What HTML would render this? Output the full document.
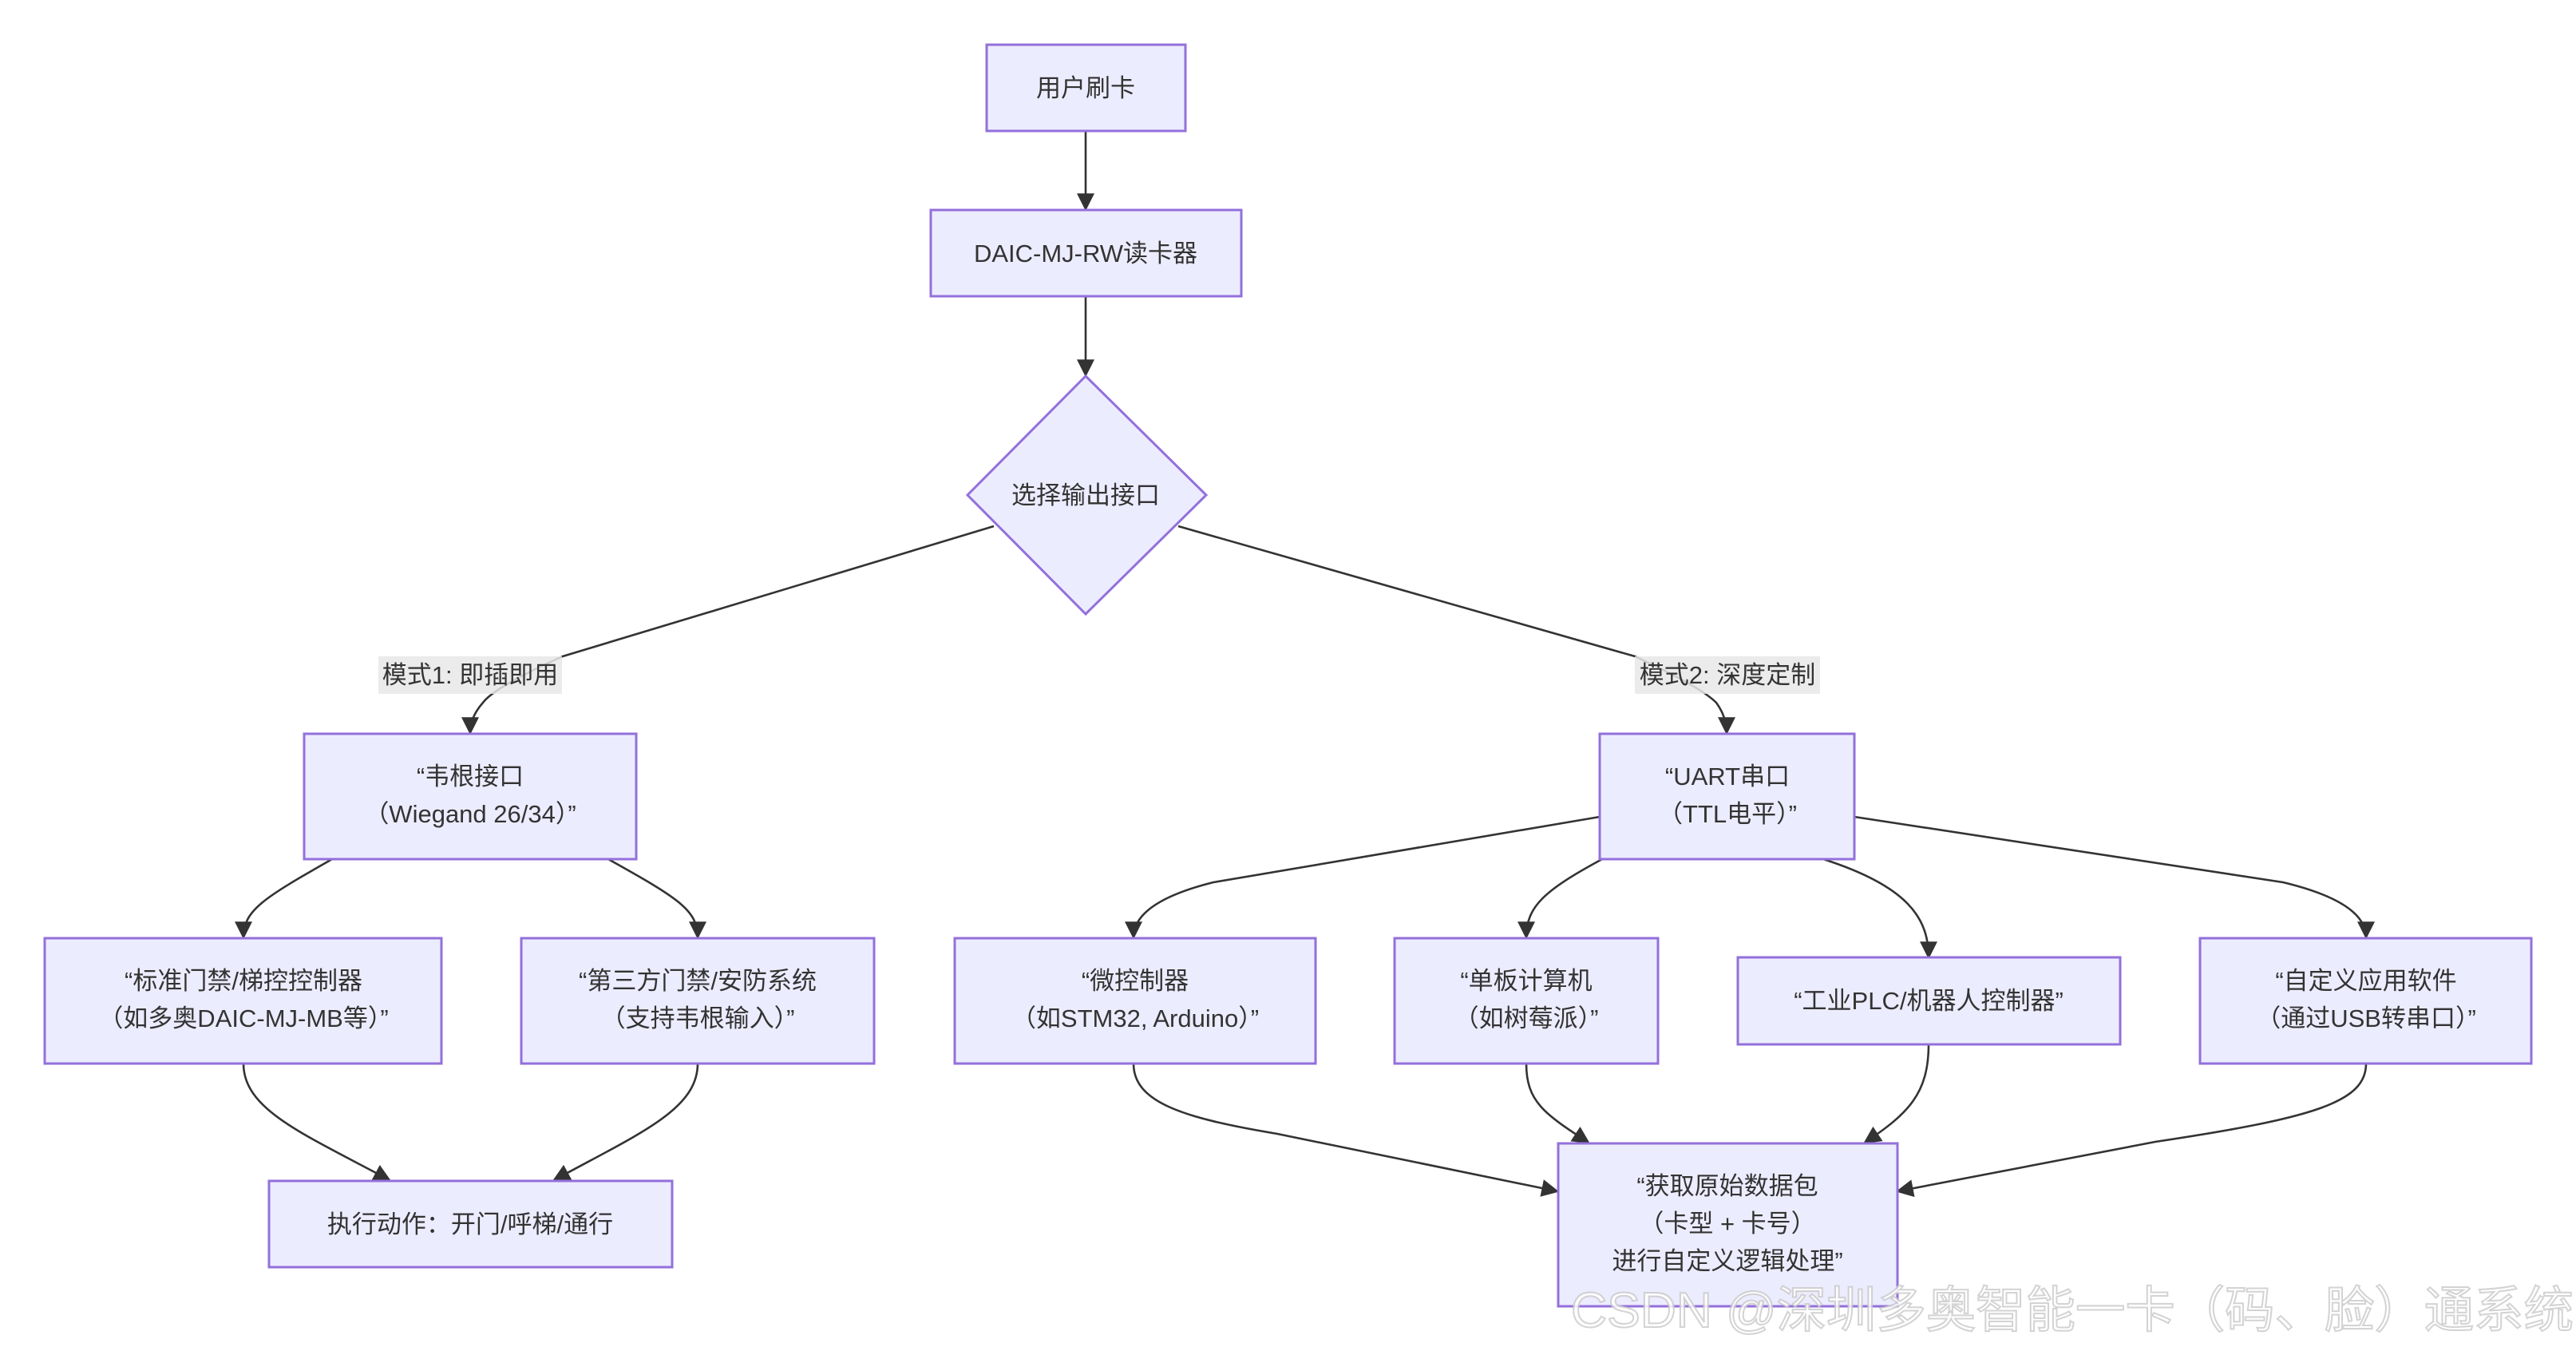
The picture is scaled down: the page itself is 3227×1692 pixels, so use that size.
<!DOCTYPE html>
<html><head><meta charset="utf-8"><style>
html,body{margin:0;padding:0;background:#fff;}
svg{display:block;}
text{font-family:"Liberation Sans","Noto Sans CJK SC",sans-serif;font-size:31px;fill:#333;text-anchor:middle;}
.n{fill:#ECECFF;stroke:#9370DB;stroke-width:3;}
.e{fill:none;stroke:#333;stroke-width:2.6;}
</style></head><body>
<svg width="3227" height="1692" viewBox="0 0 3227 1692" xmlns="http://www.w3.org/2000/svg">
<defs>
<marker id="b" viewBox="0 0 10 10" refX="9" refY="5" markerWidth="22" markerHeight="22" markerUnits="userSpaceOnUse" orient="auto"><path d="M0,0 L10,5 L0,10 z" fill="#333"/></marker></defs>

<!-- edges -->
<path class="e" marker-end="url(#b)" d="M1360,164 L1360,262"/>
<path class="e" marker-end="url(#b)" d="M1360,371 L1360,470"/>
<path class="e" marker-end="url(#b)" d="M1245,659 L705,822 Q620,860 605,880 Q589,898 589,918"/>
<path class="e" marker-end="url(#b)" d="M1476,659 L2048,822 Q2130,860 2150,880 Q2163,898 2163,918"/>
<path class="e" marker-end="url(#b)" d="M416,1076 C330,1125 305,1140 305,1174"/>
<path class="e" marker-end="url(#b)" d="M762,1076 C850,1125 874,1140 874,1174"/>
<path class="e" marker-end="url(#b)" d="M305,1332 C305,1390 380,1420 488,1478"/>
<path class="e" marker-end="url(#b)" d="M874,1332 C874,1390 800,1420 694,1478"/>
<path class="e" marker-end="url(#b)" d="M2004,1023 L1520,1105 Q1420,1130 1420,1174"/>
<path class="e" marker-end="url(#b)" d="M2007,1076 C1935,1115 1912,1135 1912,1174"/>
<path class="e" marker-end="url(#b)" d="M2284,1076 C2390,1110 2416,1150 2416,1199"/>
<path class="e" marker-end="url(#b)" d="M2323,1023 L2860,1105 Q2964,1130 2964,1174"/>
<path class="e" marker-end="url(#b)" d="M1420,1332 C1420,1380 1480,1400 1600,1420 L1951,1492"/>
<path class="e" marker-end="url(#b)" d="M1912,1332 C1912,1380 1935,1395 1990,1431"/>
<path class="e" marker-end="url(#b)" d="M2416,1308 C2416,1370 2390,1395 2336,1431"/>
<path class="e" marker-end="url(#b)" d="M2964,1332 C2964,1380 2900,1400 2700,1430 L2377,1492"/>

<!-- nodes -->
<rect class="n" x="1236" y="56" width="249" height="108"/><text x="1360" y="121">用户刷卡</text>
<rect class="n" x="1166" y="263" width="389" height="108"/><text x="1360" y="328">DAIC-MJ-RW读卡器</text>
<polygon class="n" points="1360,471 1511,620 1360,769 1212,620"/><text x="1360" y="631">选择输出接口</text>

<rect x="474" y="822" width="230" height="47" fill="rgba(232,232,232,0.85)"/><text x="589" y="856">模式1: 即插即用</text>
<rect x="2048" y="822" width="232" height="47" fill="rgba(232,232,232,0.85)"/><text x="2164" y="856">模式2: 深度定制</text>

<rect class="n" x="381" y="919" width="416" height="157"/><text x="589" y="983">“韦根接口</text><text x="589" y="1030">（Wiegand 26/34）”</text>
<rect class="n" x="56" y="1175" width="497" height="157"/><text x="305" y="1239">“标准门禁/梯控控制器</text><text x="305" y="1286">（如多奥DAIC-MJ-MB等）”</text>
<rect class="n" x="653" y="1175" width="442" height="157"/><text x="874" y="1239">“第三方门禁/安防系统</text><text x="874" y="1286">（支持韦根输入）”</text>
<rect class="n" x="337" y="1479" width="505" height="108"/><text x="589" y="1544">执行动作：开门/呼梯/通行</text>

<rect class="n" x="2004" y="919" width="319" height="157"/><text x="2164" y="983">“UART串口</text><text x="2164" y="1030">（TTL电平）”</text>
<rect class="n" x="1196" y="1175" width="452" height="157"/><text x="1422" y="1239">“微控制器</text><text x="1422" y="1286">（如STM32, Arduino）”</text>
<rect class="n" x="1747" y="1175" width="330" height="157"/><text x="1912" y="1239">“单板计算机</text><text x="1912" y="1286">（如树莓派）”</text>
<rect class="n" x="2177" y="1199" width="479" height="109"/><text x="2416" y="1264">“工业PLC/机器人控制器”</text>
<rect class="n" x="2756" y="1175" width="415" height="157"/><text x="2964" y="1239">“自定义应用软件</text><text x="2964" y="1286">（通过USB转串口）”</text>
<rect class="n" x="1952" y="1432" width="425" height="204"/><text x="2164" y="1496">“获取原始数据包</text><text x="2164" y="1543">（卡型 + 卡号）</text><text x="2164" y="1590">进行自定义逻辑处理”</text>

<text x="3224" y="1662" textLength="1256" lengthAdjust="spacingAndGlyphs" style="font-size:62px;text-anchor:end;fill:#fff;stroke:#ccc;stroke-width:2;opacity:0.85">CSDN @深圳多奥智能一卡（码、脸）通系统</text>
</svg>
</body></html>
